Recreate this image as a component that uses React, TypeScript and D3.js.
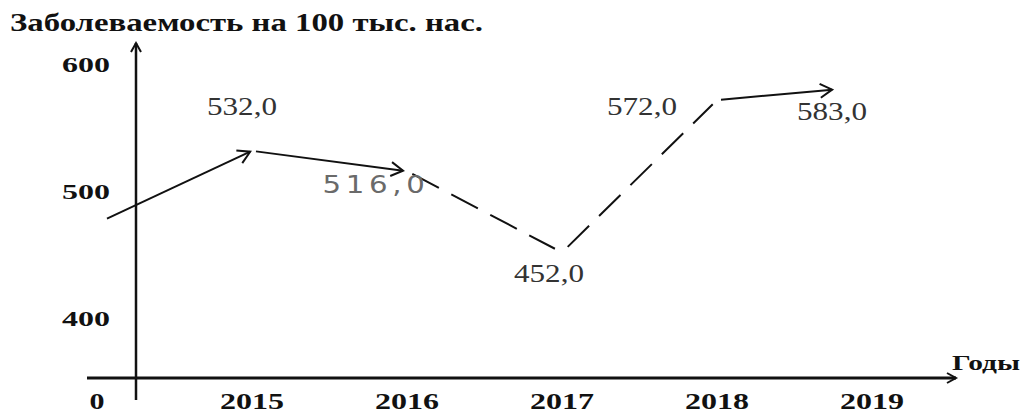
import React from "react";
import * as d3 from "d3";

// ---- data ----
const categories = ["0", "2015", "2016", "2017", "2018", "2019"];
const values = [475, 532, 516, 452, 572, 583];
const valueLabels = ["", "532,0", "516,0", "452,0", "572,0", "583,0"];
const segmentKinds = ["arrow", "arrow", "dash", "dash", "arrow"];
const yTicks = [400, 500, 600];
const title = "Заболеваемость на 100 тыс. нас.";
const xTitle = "Годы";

// ---- layout / style ----
const W = 1032;
const H = 414;
const axisX = 136;
const axisY = 378;
const labelOffsets: [number, number][] = [
  [0, 0],
  [-10, -36],
  [-31, 22],
  [-13, 30],
  [-75, 15],
  [-40, 34],
];
const segTrims: [number, number][] = [
  [11, 2],
  [4, 4],
  [6, 8],
  [8, 6],
  [4, 40],
];
const serif = "'Liberation Serif', 'Times New Roman', serif";
const sans = "'DejaVu Sans', 'Liberation Sans', sans-serif";

export default function App() {
  const x = d3.scalePoint<string>().domain(categories).range([97, 872]);
  const y = d3.scaleLinear().domain([400, 600]).range([318.5, 64.5]);

  const pts = categories.map((c, i) => [x(c) as number, y(values[i])] as [number, number]);

  const segs = segmentKinds.map((kind, i) => {
    const [x0, y0] = pts[i];
    const [x1, y1] = pts[i + 1];
    const len = Math.hypot(x1 - x0, y1 - y0);
    const ux = (x1 - x0) / len;
    const uy = (y1 - y0) / len;
    const [ts, te] = segTrims[i];
    return {
      kind,
      x1: x0 + ux * ts,
      y1: y0 + uy * ts,
      x2: x1 - ux * te,
      y2: y1 - uy * te,
    };
  });

  const line = d3.line();

  return (
    <svg
      width={W}
      height={H}
      viewBox={`0 0 ${W} ${H}`}
      style={{ position: "absolute", left: 0, top: 0, background: "#fff" }}
    >
      <defs>
        <marker
          id="arr"
          markerUnits="userSpaceOnUse"
          markerWidth={30}
          markerHeight={30}
          refX={15}
          refY={15}
          orient="auto"
          viewBox="0 0 30 30"
        >
          <path d="M3,8 L15,15 L3,22" fill="none" stroke="#111" strokeWidth={2} />
        </marker>
        <marker
          id="axarr"
          markerUnits="userSpaceOnUse"
          markerWidth={30}
          markerHeight={30}
          refX={15}
          refY={15}
          orient="auto"
          viewBox="0 0 30 30"
        >
          <path d="M6,10 L15,15 L6,20" fill="none" stroke="#111" strokeWidth={2} />
        </marker>
      </defs>

      {/* title */}
      <text
        x={10}
        y={31}
        fontFamily={serif}
        fontWeight="bold"
        fontSize={25}
        fill="#111"
        textLength={473}
        lengthAdjust="spacingAndGlyphs"
      >
        {title}
      </text>

      {/* axes */}
      <line x1={axisX} y1={400} x2={axisX} y2={43} stroke="#111" strokeWidth={2.5} markerEnd="url(#axarr)" />
      <line x1={87} y1={axisY} x2={956} y2={axisY} stroke="#111" strokeWidth={3} markerEnd="url(#axarr)" />

      {/* y tick labels */}
      {yTicks.map((t) => (
        <text
          key={t}
          x={62}
          y={y(t) + 7.5}
          fontFamily={serif}
          fontWeight="bold"
          fontSize={22}
          fill="#111"
          textLength={48}
          lengthAdjust="spacingAndGlyphs"
        >
          {t}
        </text>
      ))}

      {/* x category labels */}
      {categories.map((c) => (
        <text
          key={c}
          x={x(c)}
          y={409}
          textAnchor="middle"
          fontFamily={serif}
          fontWeight="bold"
          fontSize={24}
          fill="#111"
          textLength={c.length === 1 ? 15 : 64}
          lengthAdjust="spacingAndGlyphs"
        >
          {c}
        </text>
      ))}

      <text
        x={952}
        y={370}
        fontFamily={serif}
        fontWeight="bold"
        fontSize={22}
        fill="#111"
        textLength={68}
        lengthAdjust="spacingAndGlyphs"
      >
        {xTitle}
      </text>

      {/* segments */}
      {segs.map((s, i) => (
        <path
          key={i}
          d={line([[s.x1, s.y1], [s.x2, s.y2]]) || ""}
          fill="none"
          stroke="#111"
          strokeWidth={2}
          strokeDasharray={s.kind === "dash" ? "30 14" : undefined}
          markerEnd={s.kind === "arrow" ? "url(#arr)" : undefined}
        />
      ))}

      {/* value labels */}
      {valueLabels.map((lab, i) => {
        if (!lab) return null;
        const [px, py] = pts[i];
        const [dx, dy] = labelOffsets[i];
        const gray = i === 2;
        return (
          <text
            key={i}
            x={px + dx}
            y={py + dy}
            textAnchor="middle"
            fontFamily={gray ? sans : serif}
            fontSize={25}
            letterSpacing={gray ? 4 : 0}
            fill={gray ? "#6a6a6a" : "#333"}
            textLength={gray ? 107 : 70}
            lengthAdjust="spacingAndGlyphs"
          >
            {lab}
          </text>
        );
      })}
    </svg>
  );
}
